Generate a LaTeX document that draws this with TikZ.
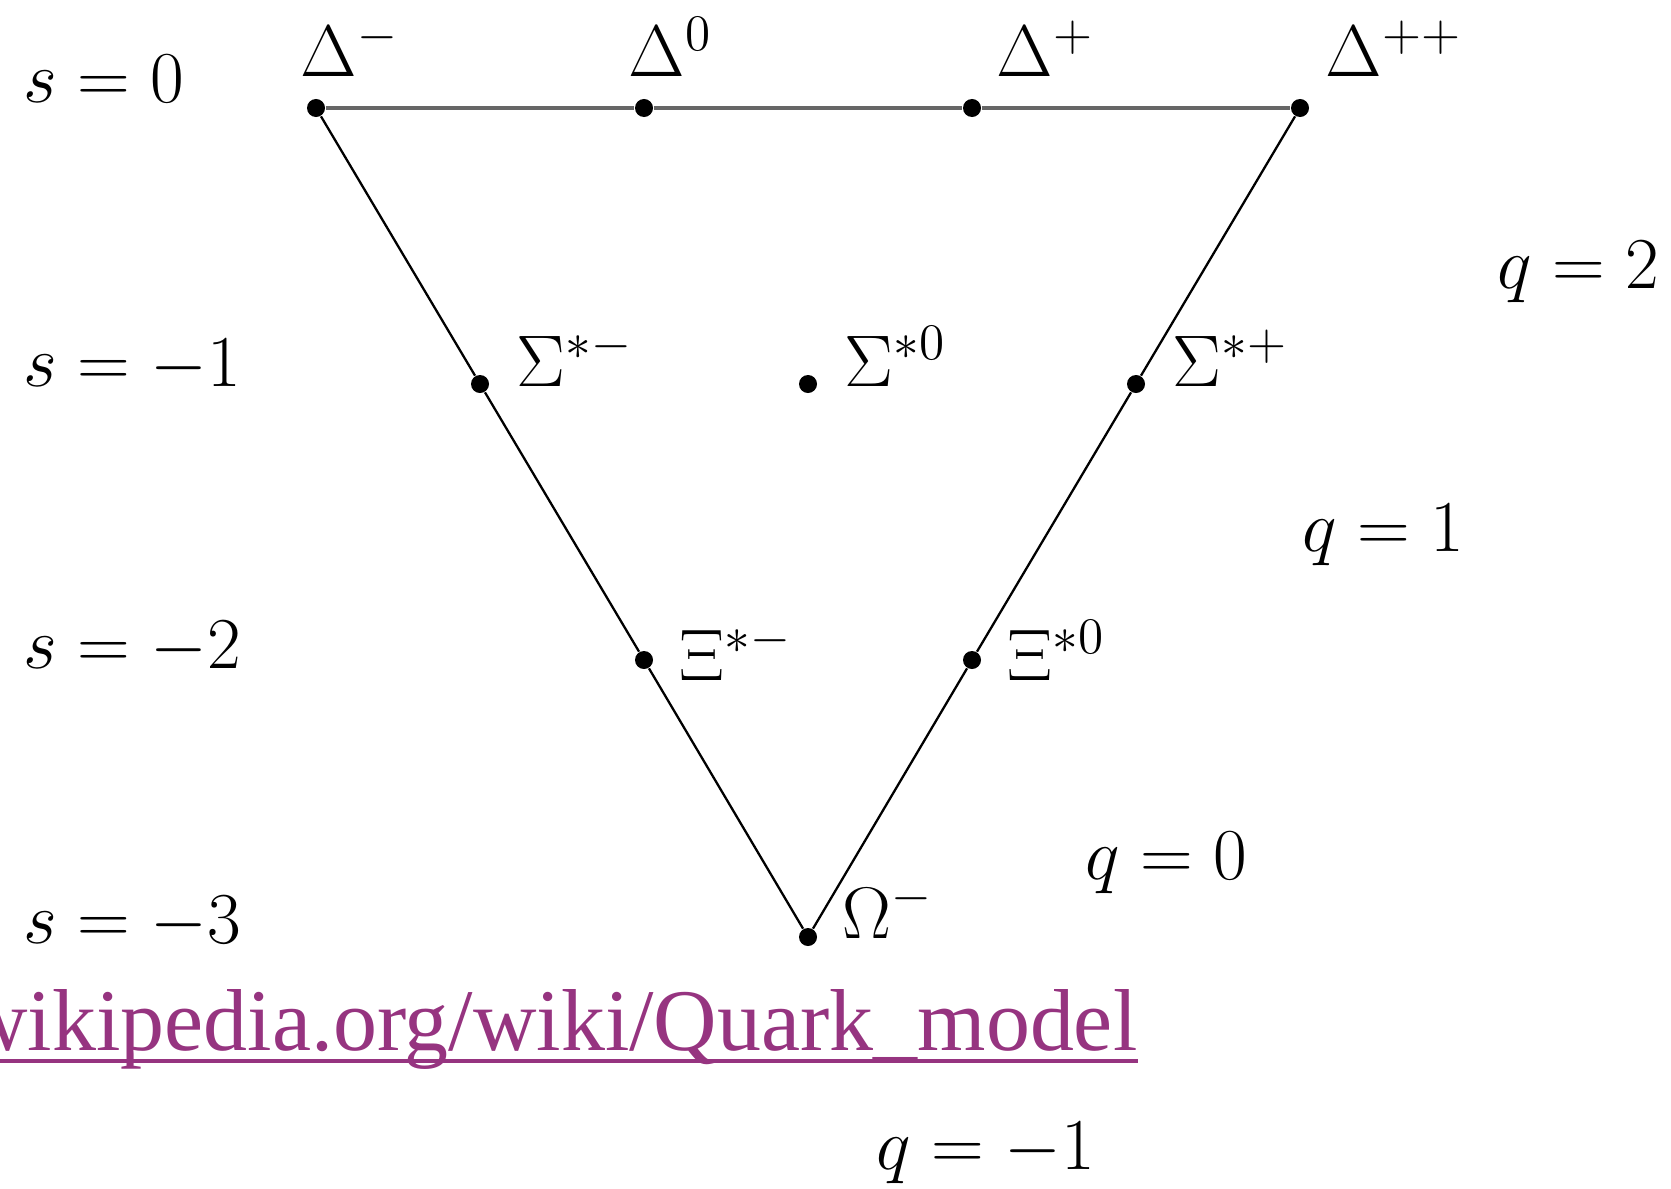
\RequirePackage{fix-cm}
\documentclass[tikz,border=0pt]{standalone}
\usepackage{fontspec}
\newfontfamily\linkfont{Liberation Serif}
\usetikzlibrary{calc}
\definecolor{linkpurple}{RGB}{150,52,128}

\begin{document}
\begin{tikzpicture}[
    x=0.01cm,
    y=-0.01cm,
    font=\fontsize{20.8}{25}\selectfont,
    state/.style={
        circle,
        fill,
        inner sep=0pt,
        minimum size=0.18cm
    },
    tag/.style={
        anchor=base west,
        inner sep=0pt
    },
    edge/.style={
        line width=0.65pt
    },
    rim/.style={
        line width=1.2pt,
        black!60
    }
]

\clip (0,0) rectangle (1671,1188);

% decuplet states
\node[state] (dm)  at (316,108) {};
\node[state] (d0)  at (644,108) {};
\node[state] (dp)  at (972,108) {};
\node[state] (dpp) at (1300,108) {};
\node[state] (sm)  at (480,384) {};
\node[state] (s0)  at (808,384) {};
\node[state] (sp)  at (1136,384) {};
\node[state] (xm)  at (644,660) {};
\node[state] (x0)  at (972,660) {};
\node[state] (om)  at (808,937) {};

\node[tag] (dmtag)  at (300,77)  {$\Delta^{-}$};
\node[tag] (d0tag)  at (628,77)  {$\Delta^{0}$};
\node[tag] (dptag)  at (996,77)  {$\Delta^{+}$};
\node[tag] (dpptag) at (1325,77) {$\Delta^{++}$};
\node[tag] (smtag)  at (516,386) {$\Sigma^{*-}$};
\node[tag] (s0tag)  at (844,386) {$\Sigma^{*0}$};
\node[tag] (sptag)  at (1172,386) {$\Sigma^{*+}$};
\node[tag] (xmtag)  at (679,680) {$\Xi^{*-}$};
\node[tag] (x0tag)  at (1007,680) {$\Xi^{*0}$};
\node[tag] (omtag)  at (842,938) {$\Omega^{-}$};

% strangeness rows
\node[tag] (srow0) at (23,103) {$s=0$};
\node[tag] (srow1) at (23,386) {$s=-1$};
\node[tag] (srow2) at (23,668) {$s=-2$};
\node[tag] (srow3) at (23,943) {$s=-3$};

% charge lines
\node[tag] (qline2) at (1497,288)  {$q=2$};
\node[tag] (qline1) at (1302,551)  {$q=1$};
\node[tag] (qline0) at (1085,879)  {$q=0$};
\node[tag] (qlinem) at (876,1169)  {$q=-1$};

\draw[rim] (dm) -- (d0) -- (dp) -- (dpp);
\draw[edge] (dm) -- (sm) -- (xm) -- (om);
\draw[edge] (dpp) -- (sp) -- (x0) -- (om);

% source link
\node[anchor=base east, inner sep=0pt, text=linkpurple,
      font=\linkfont\fontsize{25}{30}\selectfont] (link) at (1138,1050)
      {wikipedia.org/wiki/Quark\_model};
\draw[linkpurple, line width=1.1pt]
    ($(link.base west)+(0,11)$) -- ($(link.base east)+(0,11)$);

\end{tikzpicture}
\end{document}
